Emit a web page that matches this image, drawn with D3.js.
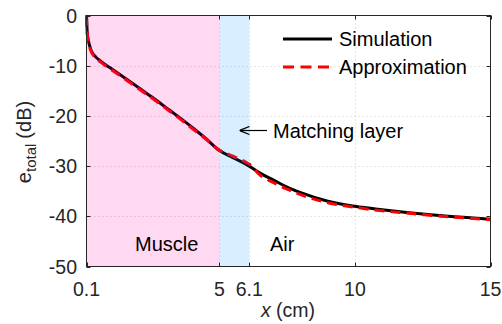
<!DOCTYPE html>
<html>
<head>
<meta charset="utf-8">
<script src="https://cdn.jsdelivr.net/npm/d3@7"></script>
<style>
  body { margin: 0; background: #fff; }
  svg { display: block; font-family: "Liberation Sans", Arial, sans-serif; }
</style>
</head>
<body>
<svg id="chart" width="502" height="324"></svg>
<script>
// data
const simX = [0.1, 0.11, 0.13, 0.17, 0.22, 0.3, 0.45, 0.6, 0.8, 1.1, 1.5, 2.0, 2.5, 3.0, 3.5, 4.0, 4.5, 5.0, 5.5, 6.1, 6.5, 7.0, 7.5, 8.0, 9.0, 10.0, 11.0, 12.0, 13.0, 14.0, 15.0];
const simY = [0, -1.5, -3.5, -5.0, -6.1, -7.3, -8.3, -9.0, -9.8, -10.9, -12.4, -14.3, -16.2, -18.2, -20.2, -22.3, -24.5, -26.9, -28.3, -30.0, -31.4, -32.8, -34.2, -35.3, -37.0, -38.0, -38.7, -39.3, -39.8, -40.2, -40.6];
const apxX = [0.1, 0.11, 0.13, 0.17, 0.22, 0.3, 0.45, 0.6, 0.8, 1.1, 1.5, 2.0, 2.5, 3.0, 3.5, 4.0, 4.5, 5.0, 5.5, 6.0, 6.1, 6.5, 7.0, 7.5, 8.0, 9.0, 10.0, 11.0, 12.0, 13.0, 14.0, 15.0];
const apxY = [0, -1.8, -3.8, -5.3, -6.4, -7.5, -8.5, -9.2, -10.0, -11.1, -12.6, -14.5, -16.4, -18.4, -20.4, -22.5, -24.6, -26.8, -28.0, -29.3, -29.6, -31.8, -33.3, -34.6, -35.7, -37.3, -38.2, -38.9, -39.4, -39.9, -40.3, -40.7];

const xTicks = [0.1, 5, 6.1, 10, 15];
const xTickLabels = ["0.1", "5", "6.1", "10", "15"];
const yTicks = [0, -10, -20, -30, -40, -50];

// layers: start, end, colour
const layerStart = [0.1, 5];
const layerEnd = [5, 6.1];
const layerColor = ["rgb(255,0,160)", "rgb(0,150,255)"];

const svg = d3.select("#chart");
const pl = 86.5, pr = 490.5, pt = 15.5, pb = 266.5;
const axisColor = "#262626";

const x = d3.scaleLinear().domain([0.1, 15]).range([pl, pr]);
const y = d3.scaleLinear().domain([-50, 0]).range([pb, pt]);

// grid
const grid = svg.append("g");
grid.selectAll(".gx").data(xTicks.slice(1, -1)).enter().append("line")
  .attr("x1", d => Math.round(x(d)) + 0.5).attr("x2", d => Math.round(x(d)) + 0.5)
  .attr("y1", pt).attr("y2", pb)
  .attr("stroke", "#cfcfcf").attr("stroke-dasharray", "1,3");
grid.selectAll(".gy").data(yTicks.slice(1, -1)).enter().append("line")
  .attr("y1", d => Math.round(y(d)) + 0.5).attr("y2", d => Math.round(y(d)) + 0.5)
  .attr("x1", pl).attr("x2", pr)
  .attr("stroke", "#cfcfcf").attr("stroke-dasharray", "1,3");

const line = d3.line().x(d => x(d[0])).y(d => y(d[1])).curve(d3.curveMonotoneX);

svg.append("path")
  .attr("d", line(d3.zip(simX, simY)))
  .attr("fill", "none").attr("stroke", "#000").attr("stroke-width", 3);
svg.append("path")
  .attr("d", line(d3.zip(apxX, apxY)))
  .attr("fill", "none").attr("stroke", "#ff0000").attr("stroke-width", 3)
  .attr("stroke-dasharray", "10,6");

// shaded layers drawn on top, semi transparent
svg.selectAll(".layer").data(d3.range(layerStart.length)).enter().append("rect")
  .attr("x", i => x(layerStart[i])).attr("width", i => x(layerEnd[i]) - x(layerStart[i]))
  .attr("y", pt).attr("height", pb - pt)
  .attr("fill", i => layerColor[i]).attr("fill-opacity", 0.15);

// box + ticks
svg.append("rect").attr("x", pl).attr("y", pt).attr("width", pr - pl).attr("height", pb - pt)
  .attr("fill", "none").attr("stroke", axisColor).attr("stroke-width", 1);

const tl = 4;
xTicks.forEach(t => {
  const px = Math.round(x(t)) + 0.5;
  svg.append("line").attr("x1", px).attr("x2", px).attr("y1", pb).attr("y2", pb - tl).attr("stroke", axisColor);
  svg.append("line").attr("x1", px).attr("x2", px).attr("y1", pt).attr("y2", pt + tl).attr("stroke", axisColor);
});
yTicks.forEach(t => {
  const py = Math.round(y(t)) + 0.5;
  svg.append("line").attr("y1", py).attr("y2", py).attr("x1", pl).attr("x2", pl + tl).attr("stroke", axisColor);
  svg.append("line").attr("y1", py).attr("y2", py).attr("x1", pr).attr("x2", pr - tl).attr("stroke", axisColor);
});

// tick labels
svg.selectAll(".xl").data(xTicks).enter().append("text")
  .attr("x", d => x(d)).attr("y", 296)
  .attr("text-anchor", "middle").attr("font-size", 19.5).attr("fill", axisColor)
  .text((d, i) => xTickLabels[i]);
svg.selectAll(".yl").data(yTicks).enter().append("text")
  .attr("x", 77).attr("y", d => y(d)).attr("dy", "0.36em")
  .attr("text-anchor", "end").attr("font-size", 19.5).attr("fill", axisColor)
  .text(d => d);

// axis labels
const xl = svg.append("text").attr("x", 288).attr("y", 317)
  .attr("text-anchor", "middle").attr("font-size", 19.5).attr("fill", axisColor);
xl.append("tspan").attr("font-style", "italic").text("x");
xl.append("tspan").text(" (cm)");

const yl = svg.append("text").attr("transform", "translate(31,142) rotate(-90)")
  .attr("text-anchor", "middle").attr("font-size", 20).attr("fill", axisColor);
yl.append("tspan").text("e");
yl.append("tspan").attr("font-size", 15).attr("dy", 5).text("total");
yl.append("tspan").attr("dy", -5).attr("dx", 5).text("(dB)");

// region labels
svg.append("text").attr("x", 135).attr("y", 250.5).attr("font-size", 20).attr("fill", "#000").text("Muscle");
svg.append("text").attr("x", 270).attr("y", 250.5).attr("font-size", 20).attr("fill", "#000").text("Air");

// matching layer annotation
svg.append("defs").append("marker").attr("id", "ah")
  .attr("viewBox", "0 0 10 10").attr("refX", 0).attr("refY", 5)
  .attr("markerWidth", 10).attr("markerHeight", 10).attr("markerUnits", "userSpaceOnUse")
  .attr("orient", "auto")
  .append("path").attr("d", "M10,1 L0,5 L10,9").attr("fill", "none").attr("stroke", "#000").attr("stroke-width", 1.3);
svg.append("line").attr("x1", 239.5).attr("x2", 267).attr("y1", 130.5).attr("y2", 130.5)
  .attr("stroke", "#000").attr("stroke-width", 1.2).attr("marker-start", "url(#ah)");
svg.append("text").attr("x", 273).attr("y", 137.5).attr("font-size", 20).attr("fill", "#000").text("Matching layer");

// legend
const legNames = ["Simulation", "Approximation"];
const legY = [39, 67];
legNames.forEach((n, i) => {
  svg.append("line").attr("x1", 283).attr("x2", 332).attr("y1", legY[i]).attr("y2", legY[i])
    .attr("stroke", i ? "#ff0000" : "#000").attr("stroke-width", 3)
    .attr("stroke-dasharray", i ? "11,6.5" : null);
  svg.append("text").attr("x", 339).attr("y", legY[i]).attr("dy", "0.36em")
    .attr("font-size", 20).attr("fill", "#000").text(n);
});
</script>
</body>
</html>
